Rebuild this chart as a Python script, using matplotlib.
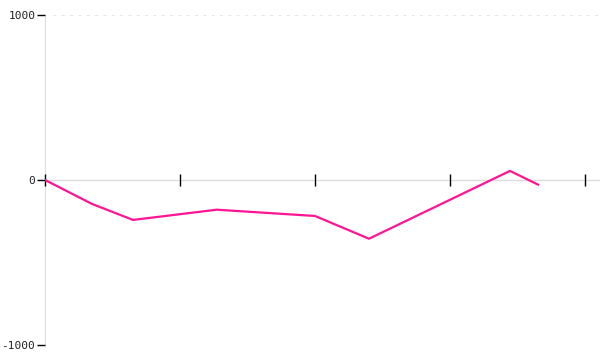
import matplotlib
matplotlib.use("Agg")
from matplotlib import pyplot as plt

# data
x_vals = [0, 8.7, 16.3, 31.8, 50, 60, 86.1, 91.3]
y_vals = [0, -145, -242, -180, -218, -356, 55, -28]
x_ticks = [0, 25, 50, 75, 100]
y_ticks = [-1000, 0, 1000]

fig = plt.figure(figsize=(6, 3.6), dpi=100)
ax = fig.add_axes([45 / 600, 15 / 360, 555 / 600, 330 / 360])

ax.set_xlim(0, 555 / 5.4)
ax.set_ylim(-1000, 1000)

for s in ["top", "right"]:
    ax.spines[s].set_visible(False)
ax.spines["left"].set_color("#dddddd")
ax.spines["left"].set_zorder(0)
ax.spines["bottom"].set_position(("data", 0))
ax.spines["bottom"].set_color("none")
ax.axhline(0, color="#dddddd", lw=1, zorder=0)

for y in [-1000, 1000]:
    ax.axhline(y, xmin=8 / 555, color="#e6e6e6", lw=1, ls=(0, (2, 4)), zorder=0)

ax.plot(x_vals, y_vals, color="#ff1493", lw=1.6, zorder=3)

ax.set_xticks(x_ticks)
ax.set_xticklabels([])
ax.tick_params(axis="x", direction="inout", length=9, width=1, color="black")
ax.set_yticks(y_ticks)
ax.set_yticklabels([str(t) for t in y_ticks])
ax.tick_params(axis="y", direction="out", length=6, width=1, color="black",
               labelsize=8, pad=1, labelcolor="#222222")
for lbl in ax.get_yticklabels():
    lbl.set_family("DejaVu Sans Mono")

fig.savefig("out.png", dpi=100)
